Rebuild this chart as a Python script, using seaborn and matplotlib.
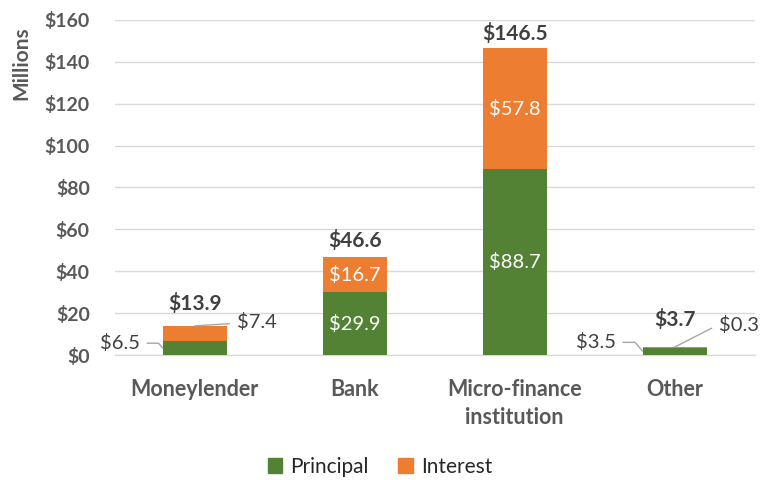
import numpy as np
import pandas as pd
import seaborn as sns
import matplotlib.pyplot as plt
from matplotlib.patches import Patch

# Datos (millones de dólares)
categorias = ['Moneylender', 'Bank', 'Micro-finance\ninstitution', 'Other']
principal = [6.5, 29.9, 88.7, 3.5]
interes = [7.4, 16.7, 57.8, 0.3]
totales = [13.9, 46.6, 146.5, 3.7]
ticks_y = [0, 20, 40, 60, 80, 100, 120, 140, 160]

verde = '#548235'
naranja = '#ED7D31'
gris_texto = '#595959'
gris_oscuro = '#404040'
gris_grid = '#D9D9D9'

sns.set_style('white')
plt.rcParams['font.family'] = ['Lato', 'DejaVu Sans']

data = pd.DataFrame({'Categoria': categorias, 'Principal': principal, 'Interes': interes})

fig = plt.figure(figsize=(7.6, 4.8), dpi=100)
ax = fig.add_axes([0.151, 0.2604, 0.842, 0.698])

sns.barplot(x='Categoria', y='Principal', data=data, color=verde, width=0.4,
            saturation=1, linewidth=0, ax=ax, zorder=3)
sns.barplot(x='Categoria', y='Interes', data=data, color=naranja, width=0.4,
            saturation=1, linewidth=0, bottom=data['Principal'], ax=ax, zorder=3)

ax.set_ylim(0, 160)
ax.set_xlim(-0.5, 3.5)
ax.set_yticks(ticks_y)
ax.set_yticklabels([f'${v}' for v in ticks_y], fontsize=14, fontweight='bold', color=gris_texto)
ax.set_xticks(range(len(categorias)))
ax.set_xticklabels(categorias, fontsize=15.5, fontweight='bold', color=gris_texto, linespacing=1.45)
ax.tick_params(axis='both', length=0)
ax.tick_params(axis='x', pad=17)
ax.tick_params(axis='y', pad=18)
ax.yaxis.grid(True, color=gris_grid, linewidth=1, zorder=0)
for lado in ['top', 'right', 'left']:
    ax.spines[lado].set_visible(False)
ax.spines['bottom'].set_color(gris_grid)
ax.spines['bottom'].set_linewidth(1)
ax.set_xlabel('')
ax.set_ylabel('Millions', fontsize=15, fontweight='bold', color=gris_texto)
ax.yaxis.set_label_coords(-0.13, 0.87)

# Etiquetas dentro de las barras (solo las grandes)
for i in range(len(categorias)):
    if principal[i] > 20:
        ax.text(i, principal[i] / 2, f'${principal[i]}', ha='center', va='center',
                color='white', fontsize=14.5, zorder=4)
    if interes[i] > 10:
        ax.text(i, principal[i] + interes[i] / 2, f'${interes[i]}', ha='center', va='center',
                color='white', fontsize=14.5, zorder=4)

# Totales
extra = [12, 6, 4, 17]
for i in range(len(categorias)):
    ax.annotate(f'${totales[i]}', xy=(i, totales[i]), xytext=(0, extra[i]),
                textcoords='offset pixels', ha='center', va='bottom',
                fontsize=15, fontweight='bold', color=gris_oscuro)

# Etiquetas con líneas guía
linea = dict(arrowstyle='-', color='#A6A6A6', lw=1, shrinkA=3, shrinkB=0)
ax.annotate(f'${principal[0]}', xy=(-0.2, principal[0] / 2), xytext=(-23, 5),
            textcoords='offset pixels', ha='right', va='center', fontsize=14.5, color=gris_oscuro,
            arrowprops=dict(linea, connectionstyle='angle,angleA=0,angleB=130,rad=0'))
ax.annotate(f'${interes[0]}', xy=(0, totales[0]), xytext=(42, 4),
            textcoords='offset pixels', ha='left', va='center', fontsize=14.5, color=gris_oscuro,
            arrowprops=dict(linea))
ax.annotate(f'${principal[3]}', xy=(2.8, principal[3] / 2), xytext=(-27, 9),
            textcoords='offset pixels', ha='right', va='center', fontsize=14.5, color=gris_oscuro,
            arrowprops=dict(linea, connectionstyle='angle,angleA=0,angleB=130,rad=0'))
ax.annotate(f'${interes[3]}', xy=(3, totales[3] + 0.1), xytext=(44, 22),
            textcoords='offset pixels', ha='left', va='center', fontsize=14.5, color=gris_oscuro,
            arrowprops=dict(linea, connectionstyle='angle,angleA=180,angleB=27,rad=0'))

handles = [Patch(color=verde, label='Principal'), Patch(color=naranja, label='Interest')]
fig.legend(handles=handles, loc='center', bbox_to_anchor=(0.5, 13 / 480), ncol=2,
           frameon=False, fontsize=15, handlelength=0.7, handleheight=0.7,
           handletextpad=0.4, columnspacing=1.4, labelcolor='#262626')

plt.savefig('out.png', dpi=100)
